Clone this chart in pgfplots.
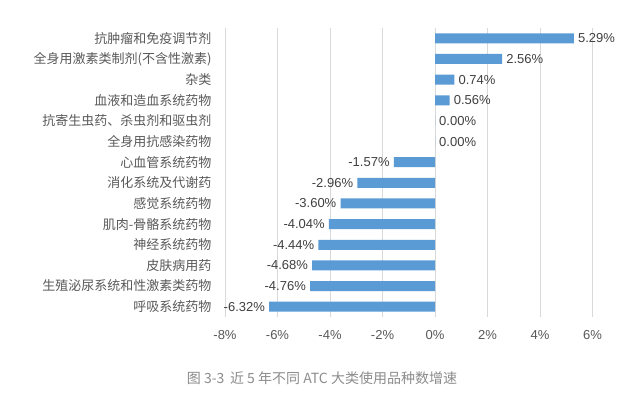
\documentclass[border=0pt]{standalone}
\usepackage{pgfplots}
\pgfplotsset{compat=1.18}
\usepackage{fontspec}
\setmainfont{Noto Sans CJK SC}
\newfontfamily\numfont{Liberation Sans}
\definecolor{barblue}{HTML}{5B9BD5}
\definecolor{txtgray}{HTML}{595959}
\definecolor{valgray}{HTML}{404040}
\definecolor{capgray}{HTML}{8C8C8C}
\definecolor{gridgray}{HTML}{D9D9D9}
\begin{document}
\begin{tikzpicture}
\fill[white] (0,0) rectangle (618bp,393bp);
\useasboundingbox (0,0) rectangle (618bp,393bp);
\begin{axis}[
  at={(225bp,76bp)}, anchor=south west,
  scale only axis, width=367.5bp, height=289bp,
  xmin=-8, xmax=6, ymin=-0.5, ymax=13.5,
  y dir=reverse,
  xbar, bar width=10bp,
  axis line style={draw=none},
  xmajorgrids, major grid style={gridgray, line width=0.8pt},
  xtick={-8,-6,...,6},
  xticklabel={\pgfmathprintnumber{\tick}\%},
  /pgf/number format/assume math mode=true,
  ytick={0,...,13},
  yticklabels={抗肿瘤和免疫调节剂,全身用激素类制剂(不含性激素),杂类,血液和造血系统药物,抗寄生虫药、杀虫剂和驱虫剂,全身用抗感染药物,心血管系统药物,消化系统及代谢药,感觉系统药物,肌肉-骨骼系统药物,神经系统药物,皮肤病用药,生殖泌尿系统和性激素类药物,呼吸系统药物},
  major tick length=0pt,
  tick style={draw=none},
  yticklabel style={font=\fontsize{13bp}{15bp}\selectfont, color=txtgray, anchor=east, xshift=-10bp},
  xticklabel style={font=\numfont\fontsize{13bp}{15bp}\selectfont, color=txtgray, anchor=north, yshift=-10bp},
  nodes near coords={\pgfmathprintnumber[fixed,fixed zerofill,precision=2]{\pgfplotspointmeta}\%},
  every node near coord/.append style={font=\numfont\fontsize{13bp}{15bp}\selectfont, color=valgray, inner sep=4bp},
  clip=false,
]
\addplot[fill=barblue, draw=none] coordinates {
(5.29,0) (2.56,1) (0.74,2) (0.56,3) (0.00,4) (0.00,5) (-1.57,6) (-2.96,7) (-3.60,8) (-4.04,9) (-4.44,10) (-4.68,11) (-4.76,12) (-6.32,13)
};
\end{axis}
\node[font=\fontsize{14bp}{16bp}\selectfont, color=capgray] at (322bp,15bp) {图 3-3\hspace{0.4em}近 5 年不同 ATC 大类使用品种数增速};
\end{tikzpicture}
\end{document}
